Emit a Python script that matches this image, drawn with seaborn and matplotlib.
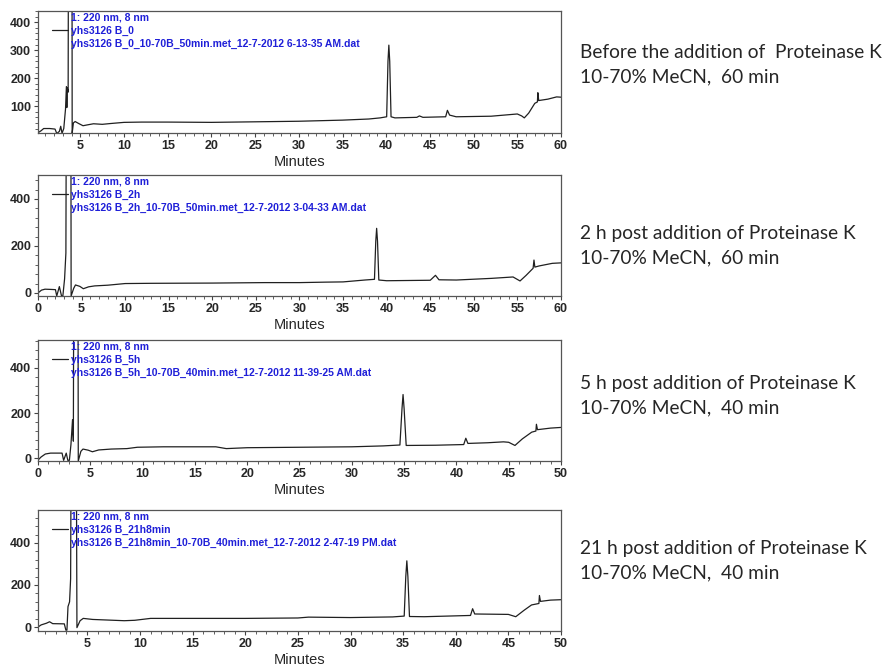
import matplotlib
matplotlib.use("Agg")
import matplotlib.pyplot as plt
from matplotlib.lines import Line2D
from matplotlib.ticker import MultipleLocator
import seaborn as sns
import pandas as pd

# ---------------------------------------------------------------- data
# 0 h (before Proteinase K), 60 min run
t_0h = [0.15, 0.5, 0.8, 1.5, 2.1, 2.3, 2.6, 2.75, 2.9, 3.1, 3.3, 3.4, 3.45, 3.5, 3.6,
        3.68, 4.02, 4.06, 4.2, 4.4, 4.8, 5.3, 5.8, 6.5, 7.5, 8.5, 10, 12, 15, 20, 25,
        30, 35, 38, 39.3, 40.05, 40.2, 40.3, 40.4, 40.55, 41, 43.5, 43.8, 44.2, 46.8,
        47.0, 47.25, 48, 52, 55, 55.5, 55.8, 56.3, 57, 57.3, 57.35, 57.45, 58.5, 59.5, 60]
a_0h = [5, 12, 20, 20, 18, 2, 10, 28, 3, 20, 90, 170, 95, 165, 150,
        1500, 1500, 3, 40, 45, 38, 30, 33, 37, 35, 38, 42, 43, 43, 42, 44,
        46, 50, 54, 58, 62, 260, 318, 260, 62, 58, 60, 65, 60, 62,
        85, 68, 62, 64, 72, 65, 58, 75, 110, 115, 148, 120, 125, 133, 132]

# 2 h, 60 min run
t_2h = [0, 0.4, 0.8, 1.5, 2.0, 2.15, 2.45, 2.7, 2.85, 3.05, 3.2, 3.3, 3.75, 3.8, 4.1,
        4.3, 4.8, 5.2, 5.8, 6.5, 8, 10, 13, 20, 26, 30, 33, 35, 37.5, 38.6, 38.75,
        38.85, 38.95, 39.1, 40, 45, 45.6, 46, 48, 52, 54.5, 55.3, 56, 56.8, 56.9, 57.0,
        57.5, 59, 60]
a_2h = [0, 12, 16, 15, 14, -13, 27, -13, -13, 60, 170, 1500, 1500, -13, 20,
        34, 28, 18, 26, 30, 33, 40, 41, 42, 44, 44, 46, 47, 55, 58, 220,
        275, 220, 55, 52, 54, 75, 56, 55, 62, 68, 51, 75, 105, 140, 110,
        115, 126, 128]

# 5 h, 40 min run
t_5h = [0, 0.3, 0.7, 1.2, 2.3, 2.45, 2.7, 2.85, 3.0, 3.15, 3.3, 3.38, 3.45, 3.8, 3.85,
        4.1, 4.3, 4.8, 5.2, 5.8, 7, 8.5, 9.5, 12, 17, 18, 20, 25, 30, 33, 34.6, 34.8,
        34.9, 35.0, 35.2, 38, 40.7, 40.9, 41.1, 43, 44.5, 45.0, 45.6, 46.3, 47.2, 47.6,
        47.65, 47.75, 49, 50]
a_5h = [-9, 5, 18, 22, 22, -10, 22, -10, -10, 60, 170, 75, 1500, 1500, -13,
        30, 40, 35, 28, 36, 40, 42, 48, 50, 50, 42, 46, 48, 50, 54, 58, 220,
        282, 220, 56, 57, 60, 88, 65, 68, 72, 70, 56, 85, 115, 120,
        150, 126, 133, 136]

# 21 h 8 min, 40 min run
t_21h = [0.3, 0.6, 1.1, 1.4, 1.7, 2.8, 2.95, 3.05, 3.15, 3.3, 3.4, 3.5, 3.9, 4.0,
         4.3, 4.6, 5.5, 7, 8.5, 9.5, 11, 20, 25, 26, 30, 34, 35.1, 35.25, 35.35, 35.45,
         35.6, 37, 41.4, 41.6, 41.8, 45, 45.7, 46.5, 47.2, 47.9, 47.95, 48.05, 49, 50]
a_21h = [0, 10, 18, 25, 16, 15, -15, -15, 97, 120, 230, 1500, 1500, -3,
         30, 41, 36, 33, 30, 32, 41, 41, 43, 47, 45, 48, 52, 240, 315, 240,
         50, 49, 55, 87, 62, 60, 49, 80, 105, 112, 150, 122, 128, 130]

samples = ["yhs3126 B_0", "yhs3126 B_2h", "yhs3126 B_5h", "yhs3126 B_21h8min"]
files = [
    "yhs3126 B_0_10-70B_50min.met_12-7-2012 6-13-35 AM.dat",
    "yhs3126 B_2h_10-70B_50min.met_12-7-2012 3-04-33 AM.dat",
    "yhs3126 B_5h_10-70B_40min.met_12-7-2012 11-39-25 AM.dat",
    "yhs3126 B_21h8min_10-70B_40min.met_12-7-2012 2-47-19 PM.dat",
]
channel = "1: 220 nm, 8 nm"
notes_1 = ["Before the addition of  Proteinase K", "2 h post addition of Proteinase K",
           "5 h post addition of Proteinase K", "21 h post addition of Proteinase K"]
notes_2 = ["10-70% MeCN,  60 min", "10-70% MeCN,  60 min",
           "10-70% MeCN,  40 min", "10-70% MeCN,  40 min"]

x_ranges = [(0.15, 60), (0, 60), (0, 50), (0.3, 50)]
y_ranges = [(4, 440), (-13, 502), (-13, 524), (-19, 557)]
y_major = [100, 200, 200, 200]
y_minor = [20, 40, 40, 40]

BLUE = "#1f1fd8"
TRACE = "#202020"

# ---------------------------------------------------------------- layout
W, H = 893, 668
sns.set_style("ticks")
plt.rcParams["font.family"] = ["Liberation Sans", "DejaVu Sans"]

fig = plt.figure(figsize=(W / 100, H / 100), dpi=100)

# (top, bottom) of each plot frame in pixels
frames = [(11, 133), (175, 296), (340, 461), (510, 631)]
note_base = [(58, 82), (239, 263), (389, 413), (554, 578)]
x_left, x_right = 38, 561

traces = [(t_0h, a_0h), (t_2h, a_2h), (t_5h, a_5h), (t_21h, a_21h)]

for i, (top, bot) in enumerate(frames):
    ax = fig.add_axes([x_left / W, 1 - bot / H, (x_right - x_left) / W, (bot - top) / H])
    df = pd.DataFrame({"Minutes": traces[i][0], "mAU": traces[i][1]})
    sns.lineplot(data=df, x="Minutes", y="mAU", ax=ax, color=TRACE, linewidth=0.9,
                 estimator=None, sort=False)
    ax.set_xlim(*x_ranges[i])
    ax.set_ylim(*y_ranges[i])
    ax.xaxis.set_major_locator(MultipleLocator(5))
    ax.xaxis.set_minor_locator(MultipleLocator(1))
    ax.yaxis.set_major_locator(MultipleLocator(y_major[i]))
    ax.yaxis.set_minor_locator(MultipleLocator(y_minor[i]))
    ax.tick_params(which="major", length=3, width=0.8, color="#444444", labelsize=9, pad=2)
    ax.tick_params(which="minor", length=2, width=0.6, color="#444444")
    for lab in ax.get_xticklabels() + ax.get_yticklabels():
        lab.set_fontweight("bold")
    for sp in ax.spines.values():
        sp.set_color("#555555")
        sp.set_linewidth(0.9)
    ax.set_xlabel("Minutes", fontsize=10.5, labelpad=2)
    ax.set_ylabel("")

    blank = Line2D([], [], color="none")
    handles = [blank, ax.get_lines()[0], blank]
    labels = [channel, samples[i], files[i]]
    ax.legend(handles, labels, loc="upper left",
              bbox_to_anchor=(13 / (x_right - x_left), 0.995),
              borderaxespad=0, borderpad=0.1, frameon=False,
              handlelength=1.5, handletextpad=0.35, labelspacing=0.28,
              prop={"weight": "bold", "size": 7.5}, labelcolor=BLUE)

    fig.text(580 / W, 1 - note_base[i][0] / H, notes_1[i], fontsize=13.8,
             family=["Lato", "DejaVu Sans"], va="baseline", ha="left")
    fig.text(580 / W, 1 - note_base[i][1] / H, notes_2[i], fontsize=13.8,
             family=["Lato", "DejaVu Sans"], va="baseline", ha="left")

fig.savefig("out.png", dpi=100)
